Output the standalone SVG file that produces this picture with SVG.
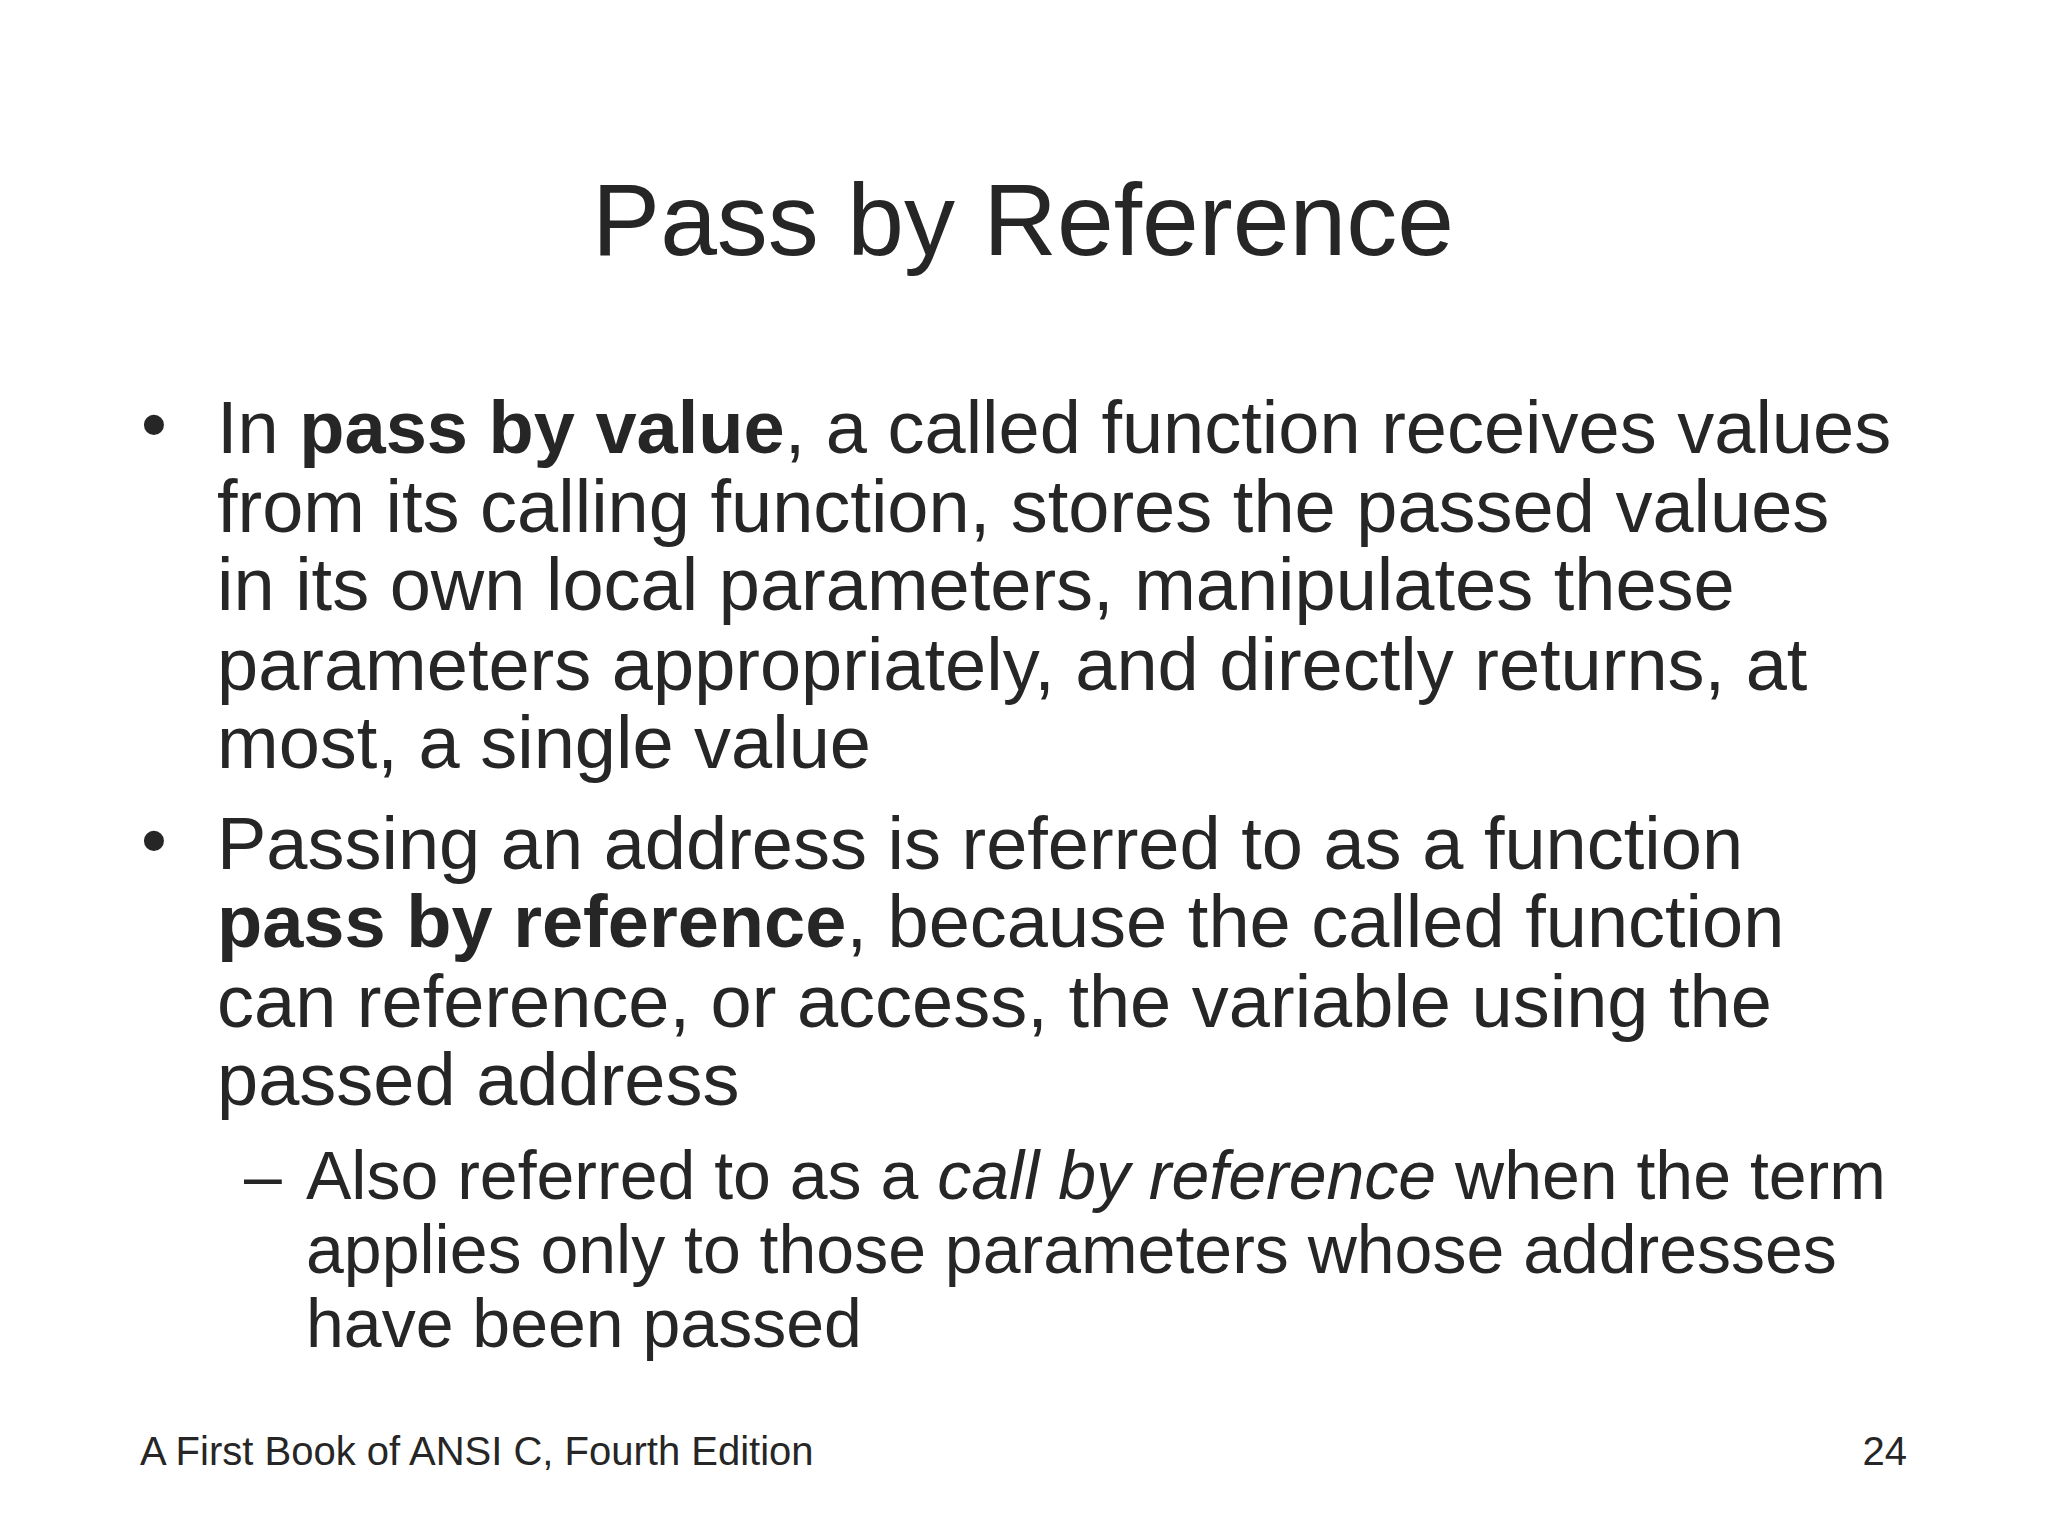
<svg xmlns="http://www.w3.org/2000/svg" width="2048" height="1536" viewBox="0 0 2048 1536">
<style>
text{font-family:"Liberation Sans",Arial,sans-serif;fill:#262626}
.t{font-size:102px}
.b{font-size:74px}
.s{font-size:68px}
.f{font-size:40px}
</style>
<rect width="2048" height="1536" fill="#fff"/>
<text class="t" x="1023" y="255" text-anchor="middle">Pass by Reference</text>
<g>
<text class="b" x="141" y="450">•</text>
<text class="b" x="217" y="453">In <tspan font-weight="bold">pass by value</tspan>, a called function receives values</text>
<text class="b" x="217" y="532">from its calling function, stores the passed values</text>
<text class="b" x="217" y="610">in its own local parameters, manipulates these</text>
<text class="b" x="217" y="690">parameters appropriately, and directly returns, at</text>
<text class="b" x="217" y="768">most, a single value</text>
<text class="b" x="141" y="866">•</text>
<text class="b" x="217" y="869">Passing an address is referred to as a function</text>
<text class="b" x="217" y="947"><tspan font-weight="bold">pass by reference</tspan>, because the called function</text>
<text class="b" x="217" y="1027">can reference, or access, the variable using the</text>
<text class="b" x="217" y="1105">passed address</text>
<text class="s" x="244" y="1199">–</text>
<text class="s" x="306" y="1199">Also referred to as a <tspan font-style="italic">call by reference</tspan> when the term</text>
<text class="s" x="306" y="1273">applies only to those parameters whose addresses</text>
<text class="s" x="306" y="1347">have been passed</text>
</g>
<text class="f" x="140" y="1465">A First Book of ANSI C, Fourth Edition</text>
<text class="f" x="1907" y="1465" text-anchor="end">24</text>
</svg>
